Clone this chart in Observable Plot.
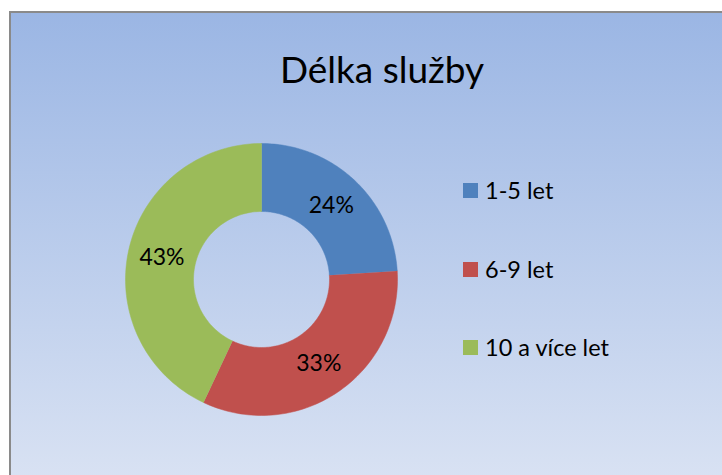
<!DOCTYPE html>
<html>
<head>
<meta charset="utf-8">
<script src="https://cdn.jsdelivr.net/npm/d3@7"></script>
<script src="https://cdn.jsdelivr.net/npm/@observablehq/plot@0.6"></script>
<style>
  html, body { margin: 0; padding: 0; background: #fff; }
  #wrap { position: relative; width: 722px; height: 475px; overflow: hidden; font-family: Lato, "Open Sans", sans-serif; }
  #panel { position: absolute; left: 9px; top: 11px; width: 740px; height: 500px;
           border-left: 2px solid #8a8a8a; border-top: 2px solid #8a8a8a;
           background: linear-gradient(to bottom, #9bb6e4 0%, #dde5f4 100%); }
  #title { position: absolute; left: 182px; width: 400px; top: 46px; text-align: center; font-size: 37px; color: #000; }
  #chart svg { position: absolute; left: 0; top: 0; }
  .leg { position: absolute; left: 463px; height: 24px; display: flex; align-items: center; font-size: 23.5px; color: #000; }
  .sw { width: 15px; height: 15px; margin-right: 7px; }
</style>
</head>
<body>
<div id="wrap">
  <div id="panel"></div>
  <div id="chart"></div>
  <div id="title"></div>
  <div id="legend"></div>
</div>
<script>
const title = "Délka služby";
const categories = ["1-5 let", "6-9 let", "10 a více let"];
const values = [24, 33, 43];
const labels = ["24%", "33%", "43%"];
const colors = ["#4F81BD", "#C0504D", "#9BBB59"];

const inner = 0.5; // hole radius relative to outer
const arcs = d3.pie().sort(null)(values);

// slice outlines in unit-radius space
const slicePts = [];
arcs.forEach((a, i) => {
  const n = 80;
  for (let k = 0; k <= n; k++) {
    const t = a.startAngle + (a.endAngle - a.startAngle) * k / n;
    slicePts.push({cat: categories[i], x: Math.sin(t), y: Math.cos(t)});
  }
  for (let k = n; k >= 0; k--) {
    const t = a.startAngle + (a.endAngle - a.startAngle) * k / n;
    slicePts.push({cat: categories[i], x: inner * Math.sin(t), y: inner * Math.cos(t)});
  }
});
const mid = (1 + inner) / 2;
const labelPts = arcs.map((a, i) => {
  const t = (a.startAngle + a.endAngle) / 2;
  return {label: labels[i], x: mid * Math.sin(t), y: mid * Math.cos(t)};
});

const plot = Plot.plot({
  width: 722,
  height: 475,
  margin: 0,
  style: {background: "transparent", fontFamily: "Lato, sans-serif"},
  x: {domain: [-1, 1], range: [125, 397], axis: null},
  y: {domain: [-1, 1], range: [415, 143], axis: null},
  color: {domain: categories, range: colors},
  marks: [
    Plot.line(slicePts, {x: "x", y: "y", z: "cat", fill: "cat", stroke: "cat", strokeWidth: 0.5, curve: "linear"}),
    Plot.text(labelPts, {x: "x", y: "y", text: "label", fontSize: 23, fontFamily: "Lato", fill: "#000"})
  ]
});
document.getElementById("chart").appendChild(plot);

document.getElementById("title").textContent = title;
const legendY = [178, 257, 335];
const leg = document.getElementById("legend");
categories.forEach((c, i) => {
  const row = document.createElement("div");
  row.className = "leg";
  row.style.top = legendY[i] + "px";
  const sw = document.createElement("div");
  sw.className = "sw";
  sw.style.background = colors[i];
  const tx = document.createElement("span");
  tx.textContent = c;
  row.appendChild(sw);
  row.appendChild(tx);
  leg.appendChild(row);
});
</script>
</body>
</html>
